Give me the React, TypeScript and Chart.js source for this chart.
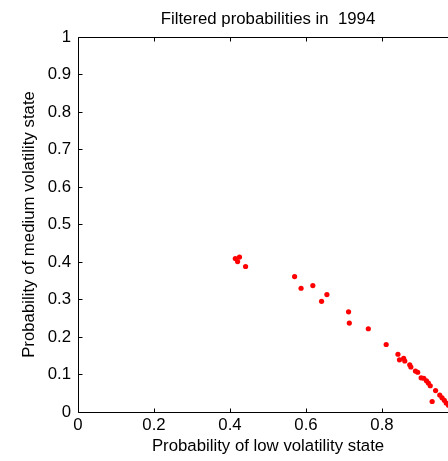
import React, { useEffect, useRef } from "react";
import { Chart, registerables } from "chart.js";

Chart.register(...registerables);

const titleText = "Filtered probabilities in  1994";
const xAxisTitle = "Probability of low volatility state";
const yAxisTitle = "Probability of medium volatility state";

const xTickLabels = ["0", "0.2", "0.4", "0.6", "0.8", "1"];
const yTickLabels = ["0", "0.1", "0.2", "0.3", "0.4", "0.5", "0.6", "0.7", "0.8", "0.9", "1"];

const lowProb = [
  0.414, 0.425, 0.42, 0.441, 0.57, 0.587, 0.618, 0.655, 0.641, 0.712, 0.714, 0.764,
  0.811, 0.842, 0.846, 0.857, 0.86, 0.873, 0.876, 0.888, 0.894, 0.903, 0.91, 0.917,
  0.922, 0.927, 0.932, 0.941, 0.952, 0.958, 0.964, 0.969, 0.975, 0.982, 0.99,
];
const mediumProb = [
  0.409, 0.413, 0.401, 0.388, 0.361, 0.33, 0.337, 0.313, 0.295, 0.267, 0.237, 0.222,
  0.18, 0.154, 0.139, 0.143, 0.136, 0.126, 0.12, 0.109, 0.106, 0.091, 0.09, 0.083,
  0.077, 0.07, 0.028, 0.057, 0.045, 0.038, 0.031, 0.024, 0.018, 0.012, 0.006,
];

const FONT = "'Liberation Sans', Arial, Helvetica, sans-serif";
const FS = 16.8;

const boxPlugin = {
  id: "matlabBox",
  afterDraw(chart: any) {
    const { ctx, chartArea: a, scales } = chart;
    const L = Math.round(a.left) + 0.5;
    const R = Math.round(a.right) - 0.5;
    const T = Math.round(a.top) + 0.5;
    const B = Math.round(a.bottom) + 0.5;
    ctx.save();
    ctx.strokeStyle = "#000";
    ctx.lineWidth = 1;
    ctx.beginPath();
    ctx.rect(L, T, R - L, B - T);
    const tl = 4;
    scales.x.ticks.forEach((t: any) => {
      const px = Math.round(scales.x.getPixelForValue(t.value)) + 0.5;
      ctx.moveTo(px, B);
      ctx.lineTo(px, B - tl);
      ctx.moveTo(px, T);
      ctx.lineTo(px, T + tl);
    });
    scales.y.ticks.forEach((t: any) => {
      const py = Math.round(scales.y.getPixelForValue(t.value)) + 0.5;
      ctx.moveTo(L, py);
      ctx.lineTo(L + tl, py);
      ctx.moveTo(R, py);
      ctx.lineTo(R - tl, py);
    });
    ctx.stroke();
    ctx.restore();
  },
};

export default function App() {
  const ref = useRef<HTMLCanvasElement>(null);
  useEffect(() => {
    if (!ref.current) return;
    const points = lowProb.map((x, i) => ({ x, y: mediumProb[i] }));
    const chart = new Chart(ref.current, {
      type: "scatter",
      data: {
        datasets: [
          {
            data: points,
            backgroundColor: "#ff0000",
            borderWidth: 0,
            pointRadius: 2.6,
            pointHoverRadius: 2.6,
          },
        ],
      },
      options: {
        animation: false,
        responsive: false,
        devicePixelRatio: 1,
        layout: { padding: { left: 0, right: 71, top: 0, bottom: 0 } },
        plugins: {
          legend: { display: false },
          tooltip: { enabled: false },
          title: {
            display: true,
            fullSize: false,
            text: titleText,
            color: "#000",
            font: { family: FONT, size: FS, weight: "normal" as any, lineHeight: 1.2 },
            padding: { top: 8.8, bottom: 8.0 },
          },
        },
        scales: {
          x: {
            type: "linear",
            min: 0,
            max: 1,
            ticks: {
              stepSize: 0.2,
              color: "#000",
              padding: 3,
              maxRotation: 0,
              font: { family: FONT, size: FS },
              callback: (_v: any, i: number) => xTickLabels[i],
            },
            grid: { display: false, drawTicks: false },
            border: { display: false },
            title: {
              display: true,
              text: xAxisTitle,
              color: "#000",
              font: { family: FONT, size: FS },
              padding: { top: 0, bottom: 4.4 },
            },
            afterFit: (s: any) => {
              s.height = 49;
            },
          },
          y: {
            type: "linear",
            min: 0,
            max: 1,
            ticks: {
              stepSize: 0.1,
              color: "#000",
              padding: 7,
              font: { family: FONT, size: FS },
              callback: (_v: any, i: number) => yTickLabels[i],
            },
            grid: { display: false, drawTicks: false },
            border: { display: false },
            title: {
              display: true,
              text: yAxisTitle,
              color: "#000",
              font: { family: FONT, size: FS },
              padding: { top: 19.4, bottom: 0 },
            },
            afterFit: (s: any) => {
              s.width = 78;
            },
          },
        },
      },
      plugins: [boxPlugin],
    });
    return () => chart.destroy();
  }, []);

  return (
    <div
      style={{
        position: "fixed",
        left: 0,
        top: 0,
        width: 448,
        height: 461,
        overflow: "hidden",
        background: "#fff",
      }}
    >
      <canvas ref={ref} width={529} height={461} style={{ display: "block" }} />
    </div>
  );
}
